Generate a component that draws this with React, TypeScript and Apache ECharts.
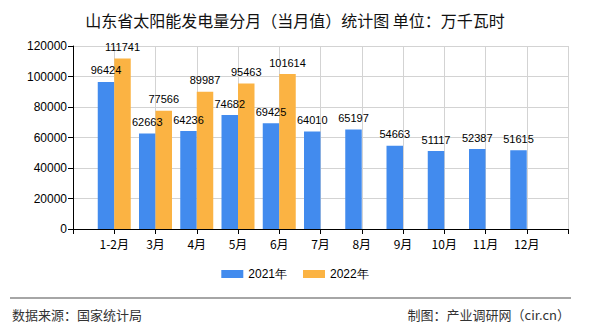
import React, { useEffect, useRef } from "react";
import * as echarts from "echarts";

const categories = ["", "1-2月", "3月", "4月", "5月", "6月", "7月", "8月", "9月", "10月", "11月", "12月", ""];
const values2021 = [null, 96424, 62663, 64236, 74682, 69425, 64010, 65197, 54663, 51117, 52387, 51615, null];
const values2022 = [null, 111741, 77566, 89987, 95463, 101614, null, null, null, null, null, null, null];
const yTicks = { min: 0, max: 120000, interval: 20000 };

export default function App() {
  const ref = useRef<HTMLDivElement>(null);
  useEffect(() => {
    const chart = echarts.init(ref.current!, null, { renderer: "svg" });
    const font = "'Liberation Sans', Arial, sans-serif";
    chart.setOption({
      animation: false,
      backgroundColor: "#fff",
      textStyle: { fontFamily: font },
      title: {
        text: "山东省太阳能发电量分月（当月值）统计图 单位：万千瓦时",
        left: "center",
        top: 7,
        textStyle: { fontSize: 16, fontWeight: "normal", color: "#111", fontFamily: "'Noto Sans CJK SC', sans-serif" },
      },
      legend: {
        bottom: 45,
        left: "center",
        itemWidth: 22,
        itemHeight: 8,
        itemGap: 16,
        itemStyle: { borderWidth: 0 },
        textStyle: { fontSize: 12, color: "#000", fontFamily: font },
        data: ["2021年", "2022年"],
        icon: "rect",
      },
      grid: { left: 73, right: 22, top: 46, bottom: 101 },
      xAxis: {
        type: "category",
        data: categories,
        boundaryGap: false,
        axisLine: { lineStyle: { color: "#000" } },
        axisTick: { show: true, lineStyle: { color: "#000" } },
        axisLabel: { color: "#000", fontSize: 12, margin: 8, fontFamily: "'Noto Sans CJK SC', sans-serif" },
        splitLine: { show: true, lineStyle: { color: "#d3d3d3" } },
      },
      yAxis: {
        type: "value",
        min: yTicks.min,
        max: yTicks.max,
        interval: yTicks.interval,
        axisLine: { show: true, lineStyle: { color: "#000" } },
        axisTick: { show: true, lineStyle: { color: "#000" } },
        axisLabel: { color: "#000", fontSize: 12, margin: 6, formatter: (v: number) => String(v) },
        splitLine: { show: true, lineStyle: { color: "#d3d3d3" } },
      },
      series: [
        {
          name: "2021年",
          type: "bar",
          data: values2021,
          barWidth: 16.5,
          barGap: "0%",
          itemStyle: { color: "#428bee" },
          label: { show: true, position: "top", distance: 6, color: "#000", fontSize: 11 },
        },
        {
          name: "2022年",
          type: "bar",
          data: values2022,
          barWidth: 16.5,
          barGap: "0%",
          itemStyle: { color: "#fbb343" },
          label: { show: true, position: "top", distance: 6, color: "#000", fontSize: 11 },
        },
      ],
      graphic: [
        { type: "line", shape: { x1: 10, y1: 298, x2: 571, y2: 298 }, style: { stroke: "#888", lineWidth: 1.5 } },
        {
          type: "text",
          left: 12,
          top: 308,
          style: { text: "数据来源：国家统计局", fontSize: 13, fill: "#333", fontFamily: "'Noto Sans CJK SC', sans-serif" },
        },
        {
          type: "text",
          right: 20,
          top: 308,
          style: { text: "制图：产业调研网（cir.cn）", fontSize: 13, fill: "#333", fontFamily: "'Noto Sans CJK SC', sans-serif" },
        },
      ],
    });
    return () => chart.dispose();
  }, []);
  return <div ref={ref} style={{ width: 590, height: 330, position: "fixed", left: 0, top: 0 }} />;
}
